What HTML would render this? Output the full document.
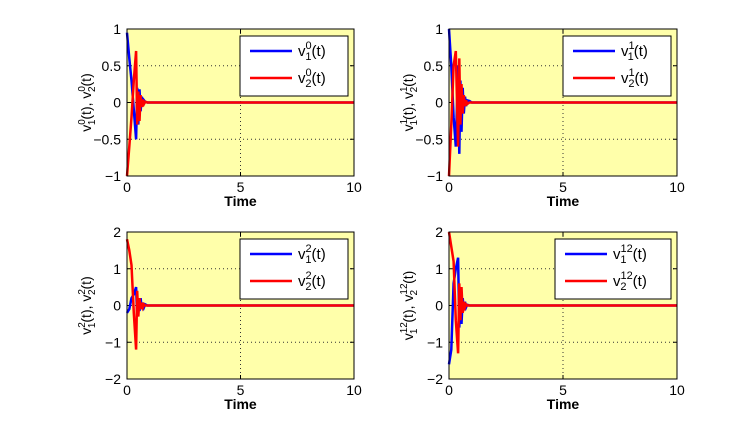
<!DOCTYPE html>
<html><head><meta charset="utf-8"><style>
body{margin:0;background:#fff;width:752px;height:426px;overflow:hidden}
svg text{font-family:"Liberation Sans",sans-serif}
</style></head><body>
<svg id="fig" width="752" height="426"></svg>
<script>
const times=[0,0.1,0.2,0.3,0.4,0.45,0.5,0.55,0.6,0.65,0.7,0.75,0.8,0.9,1.0,1.2,10];
const p1v1=[0.95,0.6,0.3,-0.1,-0.5,0.2,-0.3,0.18,-0.12,0.08,-0.05,0.03,0.01,0,0,0,0];
const p1v2=[-1,-0.6,-0.2,0.3,0.7,-0.3,0.15,-0.25,0.1,-0.06,0.04,-0.02,0.01,0,0,0,0];
const p2v1=[1,0.5,-0.2,-0.6,0.5,-0.7,0.3,-0.4,0.2,-0.15,0.08,-0.05,0.03,0.02,0,0,0];
const p2v2=[-1,-0.3,0.5,0.7,-0.6,0.6,-0.3,0.25,-0.15,0.1,-0.05,0.03,-0.02,0,0,0,0];
const p3v1=[-0.2,-0.1,0.2,0.3,0.5,-0.3,0.15,-0.15,0.2,-0.1,0.08,-0.05,0.03,0,0,0,0];
const p3v2=[1.8,1.5,1.1,-0.2,-1.2,0.4,-0.3,0.2,-0.1,0.08,-0.05,0.03,0,0,0,0,0];
const p4v1=[-1.6,-1.2,0.6,1.0,1.3,-0.6,0.5,-0.5,0.2,-0.1,0.1,-0.05,0.02,0,0,0,0];
const p4v2=[2,1.6,1.2,-0.4,-1.3,0.6,-0.4,0.5,-0.2,0.1,-0.05,0.03,0,0,0,0,0];
const xTicks=[0,5,10];
const yTicksA=[-1,-0.5,0,0.5,1];
const yTicksB=[-2,-1,0,1,2];
const NS="http://www.w3.org/2000/svg";
const fig=document.getElementById('fig');
function mk(tag,attrs,parent){const e=document.createElementNS(NS,tag);for(const k in attrs)e.setAttribute(k,attrs[k]);(parent||fig).appendChild(e);return e;}
const panels=[
 {x0:127,x1:354,y0:29,y1:176,ticks:yTicksA,v1:p1v1,v2:p1v2,sup:"0",lx:240},
 {x0:449,x1:677,y0:29,y1:176,ticks:yTicksA,v1:p2v1,v2:p2v2,sup:"1",lx:563},
 {x0:127,x1:354,y0:232,y1:379,ticks:yTicksB,v1:p3v1,v2:p3v2,sup:"2",lx:240},
 {x0:449,x1:677,y0:232,y1:379,ticks:yTicksB,v1:p4v1,v2:p4v2,sup:"12",lx:555}];
panels.forEach((p,i)=>{
 const g=mk('g',{});
 
 
 const ymin=p.ticks[0],ymax=p.ticks[p.ticks.length-1];
 const sx=v=>p.x0+(v-0)/(10-0)*(p.x1-p.x0);
 const sy=v=>p.y1-(v-ymin)/(ymax-ymin)*(p.y1-p.y0);
 mk('rect',{x:p.x0,y:p.y0,width:p.x1-p.x0,height:p.y1-p.y0,fill:'#ffffaa'},g);
 xTicks.forEach(t=>{
  if(t>0&&t<10)mk('line',{x1:sx(t),x2:sx(t),y1:p.y0,y2:p.y1,stroke:'#333','stroke-dasharray':'1,3','stroke-width':1},g);
  mk('line',{x1:sx(t),x2:sx(t),y1:p.y1,y2:p.y1-4,stroke:'#000'},g);
  mk('line',{x1:sx(t),x2:sx(t),y1:p.y0,y2:p.y0+4,stroke:'#000'},g);
  const tx=mk('text',{x:sx(t),y:p.y1+16,'text-anchor':'middle','font-size':14},g);tx.textContent=t;
  
  
 });
 p.ticks.forEach(t=>{
  if(t>ymin&&t<ymax)mk('line',{x1:p.x0,x2:p.x1,y1:sy(t),y2:sy(t),stroke:'#333','stroke-dasharray':'1,3','stroke-width':1},g);
  mk('line',{x1:p.x0,x2:p.x0+4,y1:sy(t),y2:sy(t),stroke:'#000'},g);
  mk('line',{x1:p.x1,x2:p.x1-4,y1:sy(t),y2:sy(t),stroke:'#000'},g);
  const tx=mk('text',{x:p.x0-6,y:sy(t)+5,'text-anchor':'end','font-size':14},g);tx.textContent=(t<0?'\u2212'+(-t):t);
  
  
 });
 [[p.v1,'#0000ff'],[p.v2,'#ff0000']].forEach(([vals,c],k)=>{
  const d=times.map((t,j)=>(j?'L':'M')+sx(t).toFixed(1)+','+sy(vals[j]).toFixed(1)).join(' ');
  const path=mk('path',{d:d,fill:'none',stroke:c,'stroke-width':2.5},g);
  
  
 });
 mk('rect',{x:p.x0,y:p.y0,width:p.x1-p.x0,height:p.y1-p.y0,fill:'none',stroke:'#000'},g);
 const xl=mk('text',{x:(p.x0+p.x1)/2,y:p.y1+30,'text-anchor':'middle','font-size':14,'font-weight':'bold'},g);xl.textContent='Time';
 
 
 const w=p.sup.length*6;
 const yl=mk('text',{transform:`translate(${p.x0-36},${(p.y0+p.y1)/2}) rotate(-90)`,'text-anchor':'middle','font-size':14},g);
 yl.innerHTML=`v<tspan dy="-6" font-size="10">${p.sup}</tspan><tspan dy="10" dx="-${w}" font-size="10">1</tspan><tspan dy="-4" dx="${w-6}">(t), v</tspan><tspan dy="-6" font-size="10">${p.sup}</tspan><tspan dy="10" dx="-${w}" font-size="10">2</tspan><tspan dy="-4" dx="${w-6}">(t)</tspan>`;
 
 
 const lg=mk('g',{},g);
 
 
 const lw=p.x1-6-p.lx;
 mk('rect',{x:p.lx,y:p.y0+7,width:lw,height:60,fill:'#fff',stroke:'#000'},lg);
 [['#0000ff','1'],['#ff0000','2']].forEach(([c,s],k)=>{
  const yy=p.y0+22+k*27;
  mk('line',{x1:p.lx+10,x2:p.lx+52,y1:yy,y2:yy,stroke:c,'stroke-width':2.5},lg);
  const t=mk('text',{x:p.lx+58,y:yy+5,'font-size':15},lg);
  t.innerHTML=`v<tspan dy="-7" font-size="11">${p.sup}</tspan><tspan dy="11" dx="-${p.sup.length*6.2}" font-size="11">${s}</tspan><tspan dy="-4" dx="${p.sup.length*6.2-6.2}">(t)</tspan>`;
  
  
 });
});
</script>
</body></html>
